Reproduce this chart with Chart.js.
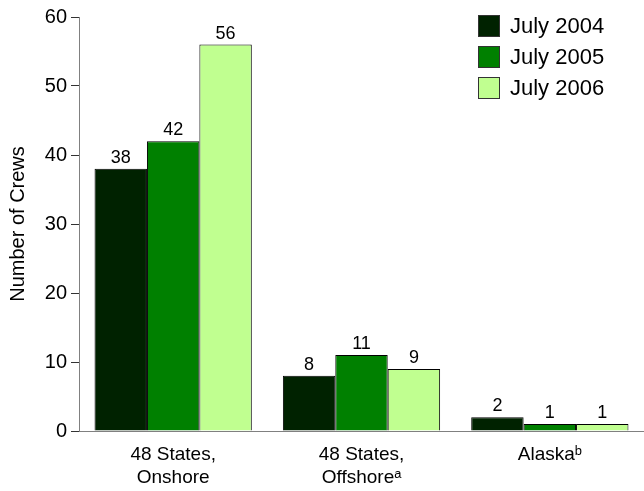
<!DOCTYPE html>
<html>
<head>
<meta charset="utf-8">
<script src="https://cdn.jsdelivr.net/npm/chart.js@4.4.1/dist/chart.umd.min.js"></script>
<style>
html,body{margin:0;padding:0;background:#fff;}
#wrap{width:644px;height:491px;position:relative;}
</style>
</head>
<body>
<div id="wrap"><canvas id="c" width="644" height="491"></canvas></div>
<script>
const categories = [["48 States,", "Onshore"], ["48 States,", "Offshore\u1d43"], ["Alaska\u1d47"]];
const seriesNames = ["July 2004", "July 2005", "July 2006"];
const july2004 = [38, 8, 2];
const july2005 = [42, 11, 1];
const july2006 = [56, 9, 1];
const yTicks = [0, 10, 20, 30, 40, 50, 60];
const colors = ["#002200", "#008000", "#c0ff90"];
const FONT = "'Liberation Sans', Arial, sans-serif";

const valueLabels = {
  id: 'valueLabels',
  afterDatasetsDraw(chart) {
    const ctx = chart.ctx;
    ctx.save();
    ctx.font = "18px " + FONT;
    ctx.fillStyle = "#000";
    ctx.textAlign = "center";
    ctx.textBaseline = "alphabetic";
    chart.data.datasets.forEach((ds, i) => {
      const meta = chart.getDatasetMeta(i);
      meta.data.forEach((el, j) => {
        ctx.fillText(String(ds.data[j]), el.x, el.y - 6);
      });
    });
    ctx.restore();
  }
};

const customLegend = {
  id: 'customLegend',
  afterDraw(chart) {
    const ctx = chart.ctx;
    ctx.save();
    ctx.font = "22px " + FONT;
    ctx.textAlign = "left";
    ctx.textBaseline = "middle";
    chart.data.datasets.forEach((ds, i) => {
      const cy = 26 + i * 31;
      ctx.fillStyle = ds.backgroundColor;
      ctx.fillRect(478, cy - 11, 22, 22);
      ctx.strokeStyle = "#333";
      ctx.lineWidth = 1;
      ctx.strokeRect(478.5, cy - 10.5, 21, 21);
      ctx.fillStyle = "#000";
      ctx.fillText(ds.label, 510, cy + 1);
    });
    ctx.restore();
  }
};

new Chart(document.getElementById('c'), {
  type: 'bar',
  data: {
    labels: categories,
    datasets: [
      { label: seriesNames[0], data: july2004, backgroundColor: colors[0] },
      { label: seriesNames[1], data: july2005, backgroundColor: colors[1] },
      { label: seriesNames[2], data: july2006, backgroundColor: colors[2] }
    ].map(d => Object.assign(d, { borderColor: "#000", borderWidth: 1, borderSkipped: 'bottom', categoryPercentage: 0.835, barPercentage: 1.0 }))
  },
  options: {
    responsive: false,
    animation: false,
    devicePixelRatio: 1,
    layout: { padding: { top: 17, right: 0, bottom: 0, left: 0 } },
    plugins: { legend: { display: false }, tooltip: { enabled: false } },
    scales: {
      x: {
        grid: { display: false, drawTicks: false },
        border: { display: true, color: "#808080", width: 1 },
        ticks: { color: "#000", font: { family: FONT, size: 19, lineHeight: 1.22 }, padding: 12, maxRotation: 0, autoSkip: false },
        afterFit(s) { s.height = 60; }
      },
      y: {
        min: 0, max: 60,
        afterBuildTicks(s) { s.ticks = yTicks.map(v => ({ value: v })); },
        grid: { drawOnChartArea: false, drawTicks: true, tickLength: 8, color: "#333" },
        border: { display: true, color: "#808080", width: 1 },
        ticks: { color: "#000", font: { family: FONT, size: 20 }, padding: 4 },
        title: { display: true, text: "Number of Crews", color: "#000", font: { family: FONT, size: 20 }, padding: 6 },
        afterFit(s) { s.width = 79; }
      }
    }
  },
  plugins: [valueLabels, customLegend]
});
</script>
</body>
</html>
